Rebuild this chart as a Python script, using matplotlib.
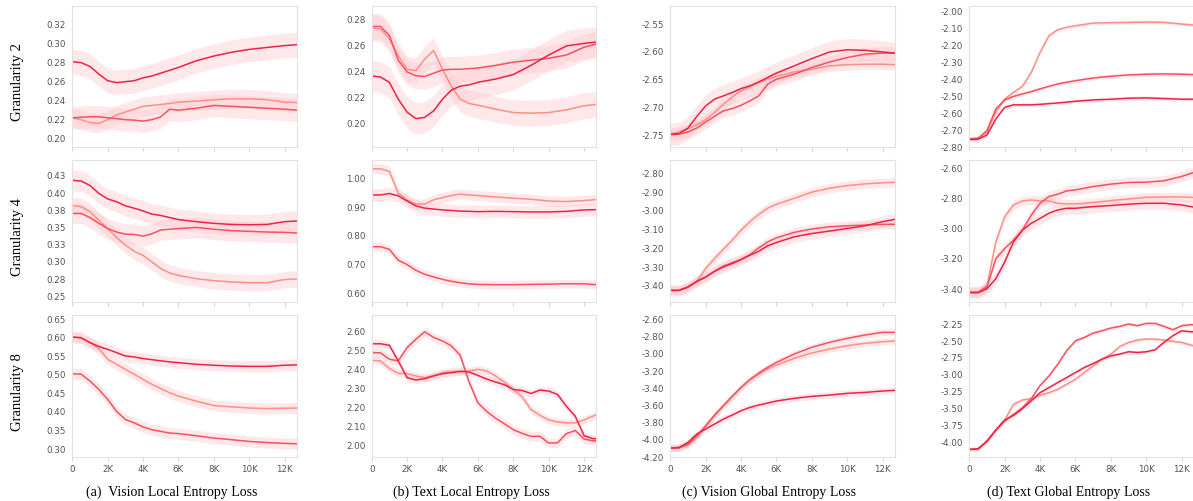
import numpy as np
import matplotlib.pyplot as plt
from matplotlib.ticker import FixedLocator, FixedFormatter, FuncFormatter

STEPS = [0, 0.5, 1, 1.5, 2, 2.5, 3, 3.5, 4, 4.5, 5, 5.5, 6, 7, 8, 9, 10, 11, 12, 12.7]
STEPS_FINE = [0, 0.5, 1, 1.5, 2, 2.5, 3, 3.5, 4, 4.5, 5, 5.5, 6, 6.5, 7, 7.5,
              8, 8.5, 9, 9.5, 10, 10.5, 11, 11.5, 12, 12.5, 12.7]

# ── Granularity 2 ────────────────────────────────────────────────────────────
A1_DARK = [0.280, 0.279, 0.275, 0.267, 0.260, 0.258, 0.259, 0.260, 0.263, 0.265,
           0.268, 0.271, 0.274, 0.281, 0.286, 0.290, 0.293, 0.295, 0.297, 0.298]
A1_MID = [0.221, 0.2215, 0.222, 0.222, 0.221, 0.220, 0.219, 0.2185, 0.2175, 0.219,
          0.222, 0.230, 0.229, 0.231, 0.234, 0.233, 0.232, 0.231, 0.230, 0.229]
A1_LIGHT = [0.221, 0.219, 0.216, 0.215, 0.219, 0.224, 0.227, 0.230, 0.233, 0.234,
            0.235, 0.236, 0.2375, 0.2385, 0.240, 0.241, 0.241, 0.240, 0.2375, 0.237]

B1_DARK = [0.236, 0.235, 0.231, 0.218, 0.208, 0.203, 0.204, 0.209, 0.218, 0.225,
           0.228, 0.229, 0.231, 0.2335, 0.237, 0.244, 0.252, 0.259, 0.261, 0.262]
B1_MID = [0.274, 0.274, 0.267, 0.248, 0.239, 0.236, 0.2355, 0.238, 0.2405, 0.241,
          0.241, 0.2415, 0.242, 0.244, 0.2465, 0.248, 0.2495, 0.252, 0.258, 0.2605]
B1_LIGHT = [0.273, 0.272, 0.2645, 0.2515, 0.241, 0.240, 0.249, 0.2555, 0.241, 0.228,
            0.218, 0.2147, 0.2134, 0.2103, 0.2077, 0.2072, 0.2077, 0.2098, 0.2129, 0.214]

C1_DARK = [-2.750, -2.749, -2.739, -2.718, -2.699, -2.687, -2.681, -2.675, -2.668, -2.663,
           -2.656, -2.648, -2.640, -2.627, -2.614, -2.602, -2.598, -2.599, -2.602, -2.604]
C1_MID = [-2.751, -2.750, -2.746, -2.739, -2.728, -2.718, -2.708, -2.704, -2.698, -2.690,
          -2.681, -2.660, -2.651, -2.642, -2.630, -2.620, -2.612, -2.606, -2.604, -2.604]
C1_LIGHT = [-2.750, -2.746, -2.740, -2.733, -2.724, -2.711, -2.696, -2.683, -2.672, -2.665,
            -2.657, -2.651, -2.646, -2.638, -2.633, -2.627, -2.625, -2.624, -2.624, -2.625]

D1_DARK = [-2.757, -2.755, -2.730, -2.636, -2.567, -2.553, -2.553, -2.553, -2.550, -2.546,
           -2.542, -2.537, -2.532, -2.524, -2.520, -2.514, -2.512, -2.516, -2.520, -2.520]
D1_MID = [-2.753, -2.750, -2.704, -2.577, -2.524, -2.503, -2.489, -2.475, -2.459, -2.444,
          -2.430, -2.420, -2.411, -2.395, -2.385, -2.377, -2.373, -2.371, -2.373, -2.375]
D1_LIGHT = [-2.753, -2.749, -2.714, -2.596, -2.518, -2.479, -2.444, -2.362, -2.244, -2.146,
            -2.111, -2.097, -2.088, -2.072, -2.070, -2.068, -2.066, -2.068, -2.078, -2.084]

# ── Granularity 4 ────────────────────────────────────────────────────────────
A2_DARK = [0.417, 0.416, 0.4095, 0.398, 0.390, 0.386, 0.380, 0.3765, 0.3726, 0.368,
           0.366, 0.363, 0.360, 0.357, 0.3546, 0.353, 0.3526, 0.353, 0.357, 0.358]
A2_MID = [0.369, 0.369, 0.363, 0.3546, 0.347, 0.342, 0.339, 0.3385, 0.336, 0.3395,
          0.345, 0.346, 0.347, 0.3487, 0.346, 0.344, 0.343, 0.342, 0.3415, 0.3405]
A2_LIGHT = [0.380, 0.379, 0.3716, 0.359, 0.347, 0.334, 0.323, 0.314, 0.308, 0.2986,
            0.289, 0.2826, 0.279, 0.2743, 0.2714, 0.2695, 0.2685, 0.2685, 0.273, 0.274]

B2_DARK = [0.939, 0.939, 0.944, 0.936, 0.918, 0.901, 0.893, 0.890, 0.887, 0.885,
           0.883, 0.882, 0.881, 0.882, 0.881, 0.880, 0.880, 0.882, 0.887, 0.888]
B2_MID = [0.759, 0.759, 0.750, 0.712, 0.697, 0.677, 0.663, 0.654, 0.6455, 0.6385,
          0.634, 0.630, 0.628, 0.627, 0.627, 0.628, 0.629, 0.630, 0.630, 0.627]
B2_LIGHT = [1.030, 1.030, 1.021, 0.945, 0.922, 0.907, 0.908, 0.922, 0.930, 0.937,
            0.942, 0.939, 0.937, 0.932, 0.928, 0.924, 0.918, 0.916, 0.9195, 0.923]

C2_DARK = [-3.430, -3.430, -3.412, -3.382, -3.359, -3.328, -3.305, -3.287, -3.266, -3.242,
           -3.221, -3.192, -3.174, -3.144, -3.126, -3.113, -3.099, -3.085, -3.063, -3.050]
C2_MID = [-3.430, -3.430, -3.412, -3.382, -3.359, -3.328, -3.300, -3.282, -3.264, -3.239,
          -3.203, -3.171, -3.149, -3.120, -3.102, -3.090, -3.085, -3.081, -3.077, -3.077]
C2_LIGHT = [-3.430, -3.430, -3.412, -3.382, -3.314, -3.260, -3.210, -3.162, -3.108, -3.063,
            -3.024, -2.991, -2.970, -2.938, -2.905, -2.884, -2.870, -2.861, -2.855, -2.852]

D2_DARK = [-3.431, -3.431, -3.404, -3.338, -3.227, -3.093, -3.016, -2.971, -2.938, -2.904,
           -2.882, -2.871, -2.871, -2.860, -2.853, -2.844, -2.838, -2.838, -2.849, -2.864]
D2_MID = [-3.427, -3.427, -3.393, -3.204, -3.138, -3.082, -3.016, -2.916, -2.838, -2.793,
          -2.778, -2.756, -2.749, -2.727, -2.711, -2.700, -2.698, -2.689, -2.660, -2.633]
D2_LIGHT = [-3.427, -3.427, -3.382, -3.093, -2.927, -2.849, -2.822, -2.816, -2.822, -2.822,
            -2.838, -2.842, -2.842, -2.833, -2.820, -2.809, -2.798, -2.796, -2.796, -2.800]

# ── Granularity 8 ────────────────────────────────────────────────────────────
A3_DARK = [0.599, 0.597, 0.584, 0.5735, 0.566, 0.557, 0.548, 0.5455, 0.541, 0.538,
           0.535, 0.532, 0.530, 0.5256, 0.523, 0.521, 0.520, 0.520, 0.523, 0.524]
A3_MID = [0.500, 0.499, 0.4805, 0.458, 0.431, 0.399, 0.377, 0.368, 0.357, 0.3496,
          0.345, 0.3406, 0.339, 0.3334, 0.327, 0.3226, 0.318, 0.315, 0.3126, 0.3117]
A3_LIGHT = [0.599, 0.597, 0.584, 0.568, 0.539, 0.5256, 0.512, 0.4986, 0.485, 0.4715,
            0.460, 0.449, 0.440, 0.4264, 0.4146, 0.411, 0.408, 0.4065, 0.4074, 0.408]

B3_DARK = [2.530, 2.530, 2.522, 2.440, 2.352, 2.340, 2.347, 2.361, 2.373, 2.378, 2.385,
           2.382, 2.364, 2.345, 2.329, 2.315, 2.290, 2.285, 2.269, 2.287, 2.282, 2.264,
           2.202, 2.150, 2.048, 2.032, 2.032]
B3_MID = [2.484, 2.482, 2.449, 2.440, 2.510, 2.554, 2.593, 2.563, 2.545, 2.519, 2.470,
          2.330, 2.220, 2.175, 2.140, 2.110, 2.079, 2.060, 2.044, 2.045, 2.009, 2.010,
          2.058, 2.075, 2.030, 2.021, 2.021]
B3_LIGHT = [2.443, 2.440, 2.400, 2.375, 2.373, 2.361, 2.352, 2.364, 2.378, 2.385, 2.385,
            2.387, 2.396, 2.387, 2.361, 2.329, 2.290, 2.252, 2.185, 2.155, 2.130, 2.120,
            2.115, 2.115, 2.130, 2.150, 2.158]

C3_DARK = [-4.107, -4.099, -4.041, -3.944, -3.886, -3.828, -3.770, -3.723, -3.673, -3.634,
           -3.607, -3.584, -3.560, -3.529, -3.506, -3.491, -3.471, -3.460, -3.444, -3.436]
C3_MID = [-4.107, -4.107, -4.060, -3.964, -3.847, -3.723, -3.615, -3.506, -3.402, -3.312,
          -3.235, -3.169, -3.111, -3.014, -2.936, -2.878, -2.832, -2.793, -2.762, -2.762]
C3_LIGHT = [-4.107, -4.103, -4.072, -3.983, -3.855, -3.731, -3.615, -3.506, -3.402, -3.312,
            -3.247, -3.188, -3.142, -3.064, -3.002, -2.956, -2.917, -2.890, -2.871, -2.863]

D3_DARK = [-4.113, -4.104, -3.990, -3.827, -3.679, -3.610, -3.512, -3.398, -3.275, -3.201,
           -3.127, -3.053, -2.979, -2.905, -2.846, -2.782, -2.733, -2.708, -2.673, -2.683,
           -2.673, -2.644, -2.535, -2.437, -2.363, -2.378, -2.378]
D3_MID = [-4.113, -4.104, -3.990, -3.827, -3.694, -3.596, -3.497, -3.364, -3.170, -3.030,
          -2.856, -2.659, -2.511, -2.462, -2.398, -2.363, -2.324, -2.299, -2.264, -2.289,
          -2.255, -2.255, -2.299, -2.348, -2.289, -2.274, -2.274]
D3_LIGHT = [-4.113, -4.104, -3.990, -3.827, -3.679, -3.448, -3.384, -3.364, -3.315, -3.275,
            -3.226, -3.152, -3.078, -2.979, -2.881, -2.782, -2.708, -2.595, -2.535, -2.500,
            -2.486, -2.486, -2.500, -2.520, -2.535, -2.575, -2.585]

# half-width of the raw (unsmoothed) noise band: dark, mid, light
SPREAD = {
    'a1': [0.013, 0.012, 0.010], 'b1': [0.012, 0.010, 0.010],
    'c1': [0.020, 0.012, 0.010], 'd1': [0.012, 0.012, 0.010],
    'a2': [0.015, 0.015, 0.012], 'b2': [0.022, 0.015, 0.018],
    'c2': [0.030, 0.025, 0.025], 'd2': [0.040, 0.035, 0.030],
    'a3': [0.015, 0.015, 0.015], 'b3': [0.020, 0.025, 0.020],
    'c3': [0.040, 0.040, 0.040], 'd3': [0.030, 0.030, 0.025],
}

ROW_LABELS = ['Granularity 2', 'Granularity 4', 'Granularity 8']
CAPTIONS = ['(a)  Vision Local Entropy Loss', '(b) Text Local Entropy Loss',
            '(c) Vision Global Entropy Loss', '(d) Text Global Entropy Loss']
X_TICKS = [0, 2000, 4000, 6000, 8000, 10000, 12000]

# y ticks per panel
YTICKS = {
    'a1': [0.20, 0.22, 0.24, 0.26, 0.28, 0.30, 0.32],
    'b1': [0.20, 0.22, 0.24, 0.26, 0.28],
    'c1': [-2.75, -2.70, -2.65, -2.60, -2.55],
    'd1': [-2.80, -2.70, -2.60, -2.50, -2.40, -2.30, -2.20, -2.10, -2.00],
    'a2': [0.25, 0.275, 0.30, 0.325, 0.35, 0.375, 0.40, 0.425],
    'b2': [0.60, 0.70, 0.80, 0.90, 1.00],
    'c2': [-3.40, -3.30, -3.20, -3.10, -3.00, -2.90, -2.80],
    'd2': [-3.40, -3.20, -3.00, -2.80, -2.60],
    'a3': [0.30, 0.35, 0.40, 0.45, 0.50, 0.55, 0.60, 0.65],
    'b3': [2.00, 2.10, 2.20, 2.30, 2.40, 2.50, 2.60],
    'c3': [-4.20, -4.00, -3.80, -3.60, -3.40, -3.20, -3.00, -2.80, -2.60],
    'd3': [-4.00, -3.75, -3.50, -3.25, -3.00, -2.75, -2.50, -2.25],
}
A2_TICK_LABELS = ['0.25', '0.28', '0.30', '0.33', '0.35', '0.38', '0.40', '0.43']

YLIMS = {
    'a1': (0.190, 0.339), 'b1': (0.181, 0.290), 'c1': (-2.7735, -2.5187), 'd1': (-2.802, -1.970),
    'a2': (0.2412, 0.4465), 'b2': (0.5685, 1.0606), 'c2': (-3.4896, -2.7333), 'd2': (-3.4889, -2.5511),
    'a3': (0.2774, 0.6583), 'b3': (1.9384, 2.681), 'c3': (-4.205, -2.5605), 'd3': (-4.217, -2.131),
}

CURVES = {
    'a1': (STEPS, A1_DARK, A1_MID, A1_LIGHT), 'b1': (STEPS, B1_DARK, B1_MID, B1_LIGHT),
    'c1': (STEPS, C1_DARK, C1_MID, C1_LIGHT), 'd1': (STEPS, D1_DARK, D1_MID, D1_LIGHT),
    'a2': (STEPS, A2_DARK, A2_MID, A2_LIGHT), 'b2': (STEPS, B2_DARK, B2_MID, B2_LIGHT),
    'c2': (STEPS, C2_DARK, C2_MID, C2_LIGHT), 'd2': (STEPS, D2_DARK, D2_MID, D2_LIGHT),
    'a3': (STEPS, A3_DARK, A3_MID, A3_LIGHT), 'b3': (STEPS_FINE, B3_DARK, B3_MID, B3_LIGHT),
    'c3': (STEPS, C3_DARK, C3_MID, C3_LIGHT), 'd3': (STEPS_FINE, D3_DARK, D3_MID, D3_LIGHT),
}

COLORS = ['#ee2247', '#f7515f', '#ff8f86']   # dark, mid, light
BAND = '#ffccd2'
SERIF = ['Liberation Serif', 'DejaVu Serif']

fig = plt.figure(figsize=(11.93, 5.02), dpi=100)

col_left = [72.3, 371.7, 670.3, 969.3]
row_top = [6.7, 161.0, 316.0]
W, H = 224.4, 141.5
FW, FH = 1193.0, 502.0


def k_fmt(v, _pos):
    return '0' if v == 0 else f'{v / 1000:.0f}K'


for r in range(3):
    for c in range(4):
        key = 'abcd'[c] + str(r + 1)
        ax = fig.add_axes([col_left[c] / FW, 1 - (row_top[r] + H) / FH, W / FW, H / FH])
        steps, dark, mid, light = CURVES[key]
        x = np.array(steps) * 1000
        spread = SPREAD[key]
        # noise bands first, then smoothed curves (light under dark)
        for ys, sp in zip([light, mid, dark], spread[::-1]):
            y = np.array(ys)
            ax.fill_between(x, y - sp, y + sp, color=BAND, alpha=0.45, lw=0)
        for ys, col in zip([light, mid, dark], COLORS[::-1]):
            ax.plot(x, ys, color=col, lw=1.1)

        ax.set_xlim(0, 12680)
        ax.set_ylim(*YLIMS[key])
        ax.xaxis.set_major_locator(FixedLocator(X_TICKS))
        ax.xaxis.set_major_formatter(FuncFormatter(k_fmt))
        ax.yaxis.set_major_locator(FixedLocator(YTICKS[key]))
        if key == 'a2':
            ax.yaxis.set_major_formatter(FixedFormatter(A2_TICK_LABELS))
        else:
            ax.yaxis.set_major_formatter(FuncFormatter(lambda v, _p: f'{v:.2f}'))
        ax.tick_params(axis='x', length=3, width=0.6, color='#cccccc',
                       labelsize=6.3, labelcolor='#555555', pad=2.5)
        ax.tick_params(axis='y', length=0, labelsize=6.3, labelcolor='#555555', pad=4.5)
        if r < 2:
            ax.tick_params(axis='x', labelbottom=False)
        for s in ax.spines.values():
            s.set_color('#e2e2e2')
            s.set_linewidth(0.8)

for r, lab in enumerate(ROW_LABELS):
    yc = 1 - (row_top[r] + H / 2 + 5) / FH
    fig.text(18 / FW, yc, lab, rotation=90, ha='center', va='center',
             fontsize=10.5, family=SERIF)

for c, cap in enumerate(CAPTIONS):
    xc = (col_left[c] + W / 2 - 13) / FW
    fig.text(xc, 1 - 492 / FH, cap, ha='center', va='center', fontsize=10, family=SERIF)

fig.savefig('out.png', dpi=100)
